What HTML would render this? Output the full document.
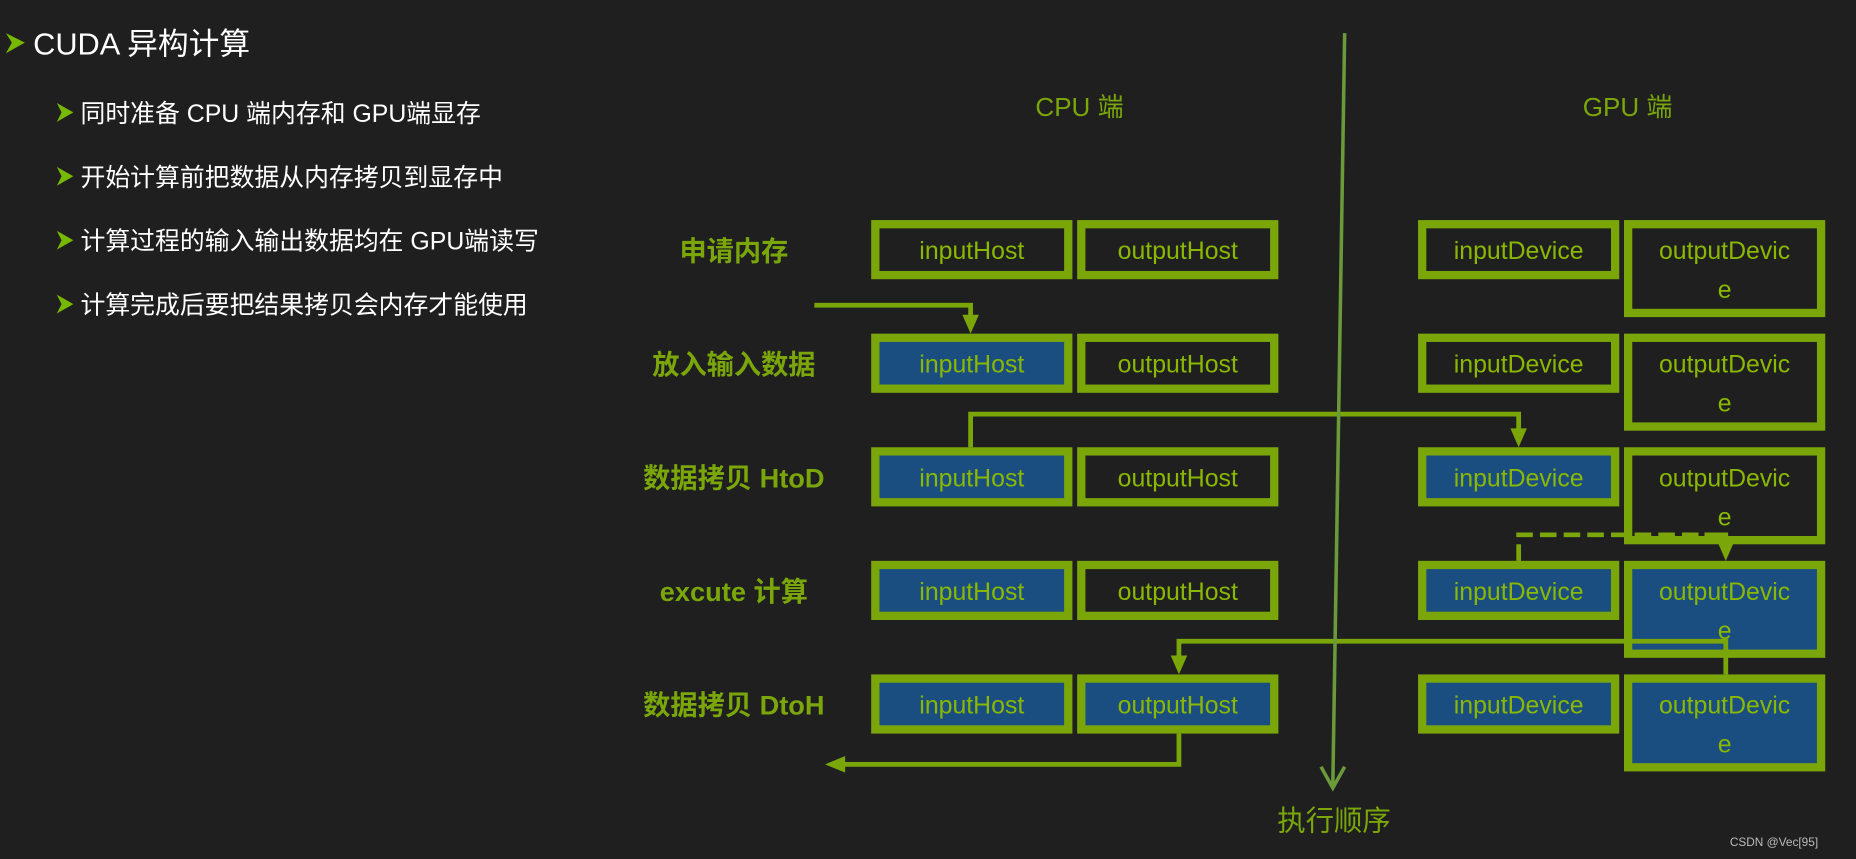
<!DOCTYPE html>
<html><head><meta charset="utf-8"><style>
html,body{margin:0;padding:0;background:#1f1f1f;}
svg{display:block}
text{font-family:"Liberation Sans","Noto Sans CJK SC",sans-serif;}
</style></head><body>
<svg width="1856" height="859" viewBox="0 0 1568 726" preserveAspectRatio="none" xmlns="http://www.w3.org/2000/svg">
<rect width="1568" height="726" fill="#1f1f1f"/>
<defs>
<marker id="ah" markerWidth="4" markerHeight="4" refX="2.5" refY="2" orient="auto" markerUnits="strokeWidth"><path d="M0,0 L4,2 L0,4 z" fill="#7aa60a"/></marker>
</defs>
<!-- left bullets -->
<g fill="#ffffff">
<path d="M5,28 L21,36 L5,45 L10,36 z" fill="#76b900"/>
<text x="28" y="46" font-size="26">CUDA 异构计算</text>
<g font-size="21">
<path d="M48,87 L62,95 L48,103 L52,95 z" fill="#76b900"/><text x="68" y="103">同时准备 CPU 端内存和 GPU端显存</text>
<path d="M48,141 L62,149 L48,157 L52,149 z" fill="#76b900"/><text x="68" y="157">开始计算前把数据从内存拷贝到显存中</text>
<path d="M48,195 L62,203 L48,211 L52,203 z" fill="#76b900"/><text x="68" y="211">计算过程的输入输出数据均在 GPU端读写</text>
<path d="M48,249 L62,257 L48,265 L52,257 z" fill="#76b900"/><text x="68" y="265">计算完成后要把结果拷贝会内存才能使用</text>
</g></g>
<!-- headers -->
<g fill="#7aa60a" font-size="22" text-anchor="middle">
<text x="912" y="98">CPU 端</text>
<text x="1375" y="98">GPU 端</text>
<text x="1127" y="702" font-size="24">执行顺序</text>
</g>
<g fill="#7aa60a" font-size="23" font-weight="bold" text-anchor="middle">
<text x="620" y="220">申请内存</text>
<text x="620" y="316">放入输入数据</text>
<text x="620" y="412">数据拷贝 HtoD</text>
<text x="620" y="508">excute 计算</text>
<text x="620" y="604">数据拷贝 DtoH</text>
</g>
<!-- boxes -->
<g font-size="21" fill="#8ab800" text-anchor="middle">
<!-- row1 -->
<rect x="736" y="186" width="170" height="50" fill="#7aa60a"/><rect x="743" y="193" width="156" height="36" fill="#1f1f1f"/><text x="821" y="219" fill="#8ab800">inputHost</text>
<rect x="910" y="186" width="170" height="50" fill="#7aa60a"/><rect x="917" y="193" width="156" height="36" fill="#1f1f1f"/><text x="995" y="219" fill="#8ab800">outputHost</text>
<rect x="1198" y="186" width="170" height="50" fill="#7aa60a"/><rect x="1205" y="193" width="156" height="36" fill="#1f1f1f"/><text x="1283" y="219" fill="#8ab800">inputDevice</text>
<rect x="1372" y="186" width="170" height="82" fill="#7aa60a"/><rect x="1379" y="193" width="156" height="68" fill="#1f1f1f"/><text x="1457" y="219" fill="#8ab800">outputDevic</text><text x="1457" y="252" fill="#8ab800">e</text>
<!-- row2 -->
<rect x="736" y="282" width="170" height="50" fill="#7aa60a"/><rect x="743" y="289" width="156" height="36" fill="#1a4e80"/><text x="821" y="315" fill="#8ab800">inputHost</text>
<rect x="910" y="282" width="170" height="50" fill="#7aa60a"/><rect x="917" y="289" width="156" height="36" fill="#1f1f1f"/><text x="995" y="315" fill="#8ab800">outputHost</text>
<rect x="1198" y="282" width="170" height="50" fill="#7aa60a"/><rect x="1205" y="289" width="156" height="36" fill="#1f1f1f"/><text x="1283" y="315" fill="#8ab800">inputDevice</text>
<rect x="1372" y="282" width="170" height="82" fill="#7aa60a"/><rect x="1379" y="289" width="156" height="68" fill="#1f1f1f"/><text x="1457" y="315" fill="#8ab800">outputDevic</text><text x="1457" y="348" fill="#8ab800">e</text>
<!-- row3 -->
<rect x="736" y="378" width="170" height="50" fill="#7aa60a"/><rect x="743" y="385" width="156" height="36" fill="#1a4e80"/><text x="821" y="411" fill="#8ab800">inputHost</text>
<rect x="910" y="378" width="170" height="50" fill="#7aa60a"/><rect x="917" y="385" width="156" height="36" fill="#1f1f1f"/><text x="995" y="411" fill="#8ab800">outputHost</text>
<rect x="1198" y="378" width="170" height="50" fill="#7aa60a"/><rect x="1205" y="385" width="156" height="36" fill="#1a4e80"/><text x="1283" y="411" fill="#8ab800">inputDevice</text>
<rect x="1372" y="378" width="170" height="82" fill="#7aa60a"/><rect x="1379" y="385" width="156" height="68" fill="#1f1f1f"/><text x="1457" y="411" fill="#8ab800">outputDevic</text><text x="1457" y="444" fill="#8ab800">e</text>
<!-- row4 -->
<rect x="736" y="474" width="170" height="50" fill="#7aa60a"/><rect x="743" y="481" width="156" height="36" fill="#1a4e80"/><text x="821" y="507" fill="#8ab800">inputHost</text>
<rect x="910" y="474" width="170" height="50" fill="#7aa60a"/><rect x="917" y="481" width="156" height="36" fill="#1f1f1f"/><text x="995" y="507" fill="#8ab800">outputHost</text>
<rect x="1198" y="474" width="170" height="50" fill="#7aa60a"/><rect x="1205" y="481" width="156" height="36" fill="#1a4e80"/><text x="1283" y="507" fill="#8ab800">inputDevice</text>
<rect x="1372" y="474" width="170" height="82" fill="#7aa60a"/><rect x="1379" y="481" width="156" height="68" fill="#1a4e80"/><text x="1457" y="507" fill="#8ab800">outputDevic</text><text x="1457" y="540" fill="#8ab800">e</text>
<!-- row5 -->
<rect x="736" y="570" width="170" height="50" fill="#7aa60a"/><rect x="743" y="577" width="156" height="36" fill="#1a4e80"/><text x="821" y="603" fill="#8ab800">inputHost</text>
<rect x="910" y="570" width="170" height="50" fill="#7aa60a"/><rect x="917" y="577" width="156" height="36" fill="#1a4e80"/><text x="995" y="603" fill="#8ab800">outputHost</text>
<rect x="1198" y="570" width="170" height="50" fill="#7aa60a"/><rect x="1205" y="577" width="156" height="36" fill="#1a4e80"/><text x="1283" y="603" fill="#8ab800">inputDevice</text>
<rect x="1372" y="570" width="170" height="82" fill="#7aa60a"/><rect x="1379" y="577" width="156" height="68" fill="#1a4e80"/><text x="1457" y="603" fill="#8ab800">outputDevic</text><text x="1457" y="636" fill="#8ab800">e</text>
</g>
<!-- connectors -->
<g fill="none" stroke="#7aa60a" stroke-width="4">
<polyline points="688,258 820,258 820,270"/>
<polyline points="820,378 820,350 1283,350 1283,366"/>
<polyline points="1283,474 1283,452 1440,452" stroke-dasharray="14,6"/>
<polyline points="1440,452 1458,452 1458,462"/>
<polyline points="1458,570 1458,542 996,542 996,558"/>
<polyline points="996,620 996,646 712,646"/>
</g>
<g fill="#7aa60a">
<path d="M813,266 L827,266 L820,282 z"/>
<path d="M1276,362 L1290,362 L1283,378 z"/>
<path d="M1451,458 L1465,458 L1458,474 z"/>
<path d="M989,554 L1003,554 L996,570 z"/>
<path d="M714,639 L714,653 L697,646 z"/>
</g>
<!-- timeline -->
<line x1="1136" y1="28" x2="1126" y2="664" stroke="#6a9a3a" stroke-width="3"/>
<polyline points="1116,648 1126,666 1136,648" fill="none" stroke="#6a9a3a" stroke-width="3"/>
<text x="1536" y="715" font-size="10" fill="#bbbbbb" text-anchor="end">CSDN @Vec[95]</text>
</svg>
</body></html>
